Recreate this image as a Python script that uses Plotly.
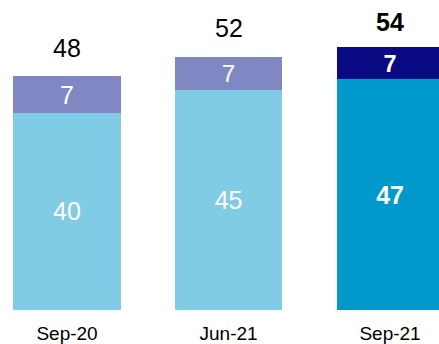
import plotly.graph_objects as go

# data
periods = ["Sep-20", "Jun-21", "Sep-21"]
base_vals = [40.3, 45.0, 47.2]
top_vals = [7.5, 6.8, 6.6]
base_labels = ["40", "45", "47"]
top_labels = ["7", "7", "7"]
total_labels = ["48", "52", "54"]

base_colors = ["#80CCE4", "#80CCE4", "#0099CC"]
top_colors = ["#8088C4", "#8088C4", "#0A0A82"]
bold = [False, False, True]
total_shift = [28, 29, 25]

x = list(range(len(periods)))
font_family = "Liberation Sans, Arial, sans-serif"


def fmt(lbl, b):
    return f"<b>{lbl}</b>" if b else lbl


fig = go.Figure()
fig.add_trace(go.Bar(
    x=x, y=base_vals,
    marker=dict(color=base_colors, line=dict(width=0)),
    text=[fmt(t, b) for t, b in zip(base_labels, bold)],
    textposition="inside", insidetextanchor="middle", textangle=0,
    textfont=dict(color="white", size=25, family=font_family),
    width=0.663, showlegend=False, hoverinfo="skip",
))
fig.add_trace(go.Bar(
    x=x, y=top_vals,
    marker=dict(color=top_colors, line=dict(width=0)),
    text=[fmt(t, b) for t, b in zip(top_labels, bold)],
    textposition="inside", insidetextanchor="middle", textangle=0,
    textfont=dict(color="white", size=25, family=font_family),
    width=0.663, showlegend=False, hoverinfo="skip",
))

for i, lbl in enumerate(total_labels):
    fig.add_annotation(
        x=x[i], y=base_vals[i] + top_vals[i],
        text=fmt(lbl, bold[i]), showarrow=False,
        yanchor="middle", yshift=total_shift[i],
        font=dict(color="black", size=25, family=font_family),
    )

fig.update_layout(
    barmode="stack",
    width=439, height=344,
    margin=dict(l=0, r=0, t=0, b=34),
    paper_bgcolor="white", plot_bgcolor="white",
    xaxis=dict(
        range=[-0.415, 2.303], tickvals=x, ticktext=periods,
        showgrid=False, zeroline=False, showline=False, ticks="",
        tickfont=dict(color="black", size=19, family=font_family),
        ticklabelstandoff=10,
    ),
    yaxis=dict(range=[0, 63.4], visible=False),
)

# drop the default page margin so the chart fills the window exactly
fig.write_html(
    "out.html",
    config={"displayModeBar": False},
    post_script="document.body.style.margin='0';document.body.style.overflow='hidden';",
)
